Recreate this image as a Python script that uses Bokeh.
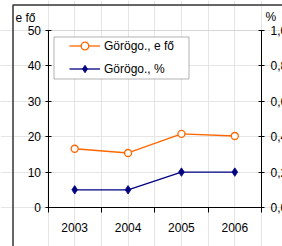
from bokeh.plotting import figure
from bokeh.models import (LinearAxis, Range1d, FixedTicker, Legend, LegendItem, Label,
                          CustomJSTickFormatter, BoxAnnotation, ColumnDataSource)
from bokeh.embed import file_html
from bokeh.resources import INLINE

# ---- data ----
years = ["2003", "2004", "2005", "2006"]
count_e_fo = [16.6, 15.4, 20.8, 20.2]
share_pct = [0.1, 0.1, 0.2, 0.2]
left_ticks = [0, 10, 20, 30, 40, 50]
right_ticks = [0.0, 0.2, 0.4, 0.6, 0.8, 1.0]
series_names = ["Görögo., e fő", "Görögo., %"]
left_unit = "e fő"
right_unit = "%"

# ---- layout (pixels) ----
W, H = 282, 246
AX_L, AX_R, AX_T, AX_B = 47.5, 261.0, 30.0, 207.0   # plot-area edges on the canvas

FONT = "Liberation Sans"
ORANGE = "#FF6600"
NAVY = "#000080"

n_cat = len(years)
x_px = (AX_R - AX_L) / n_cat
y_px = (AX_B - AX_T) / (left_ticks[-1] - left_ticks[0])
x_lo = -AX_L / x_px
x_hi = n_cat + (W - AX_R) / x_px
y_lo = left_ticks[0] - (H - AX_B) / y_px
y_hi = left_ticks[-1] + AX_T / y_px
k = (right_ticks[-1] - right_ticks[0]) / (left_ticks[-1] - left_ticks[0])


def dx(px):  # canvas pixel -> x data
    return x_lo + px / x_px


def dy(py):  # canvas pixel -> y data
    return y_hi - py / y_px


xs = [i + 0.5 for i in range(n_cat)]
src = ColumnDataSource(dict(x=xs, n=count_e_fo, pct=share_pct))

p = figure(width=W, height=H, x_range=Range1d(x_lo, x_hi), y_range=Range1d(y_lo, y_hi),
           output_backend="svg", toolbar_location=None,
           x_axis_location=None, y_axis_location=None, min_border=0,
           min_border_left=0, min_border_right=0, min_border_top=0, min_border_bottom=0)
p.extra_y_ranges = {"pct": Range1d(y_lo * k, y_hi * k)}
p.background_fill_color = "white"
p.border_fill_color = "white"
p.outline_line_color = None

# outer chart frame (only its left and top edges fall inside the picture)
p.line(x=[dx(W + 20), dx(12.5), dx(12.5)], y=[dy(4.5), dy(4.5), dy(H + 20)],
       line_color="#333333", line_width=1.5)
# plot-area border (light grey)
p.add_layout(BoxAnnotation(left=0, right=n_cat, bottom=left_ticks[0], top=left_ticks[-1],
                           fill_alpha=0, line_color="#B4B4B4", line_width=1, level="underlay"))


def style_axis(ax):
    ax.axis_line_color = "black"
    ax.axis_line_width = 1
    ax.major_tick_line_color = "black"
    ax.minor_tick_line_color = "black"
    ax.major_label_text_font = FONT
    ax.major_label_text_font_size = "12px"
    ax.major_label_text_color = "black"


left = LinearAxis(ticker=FixedTicker(ticks=left_ticks), fixed_location=0,
                  bounds=(left_ticks[0], left_ticks[-1]))
style_axis(left)
left.major_tick_in = 3
left.major_tick_out = 3
left.minor_tick_in = 0
left.minor_tick_out = 0
left.major_label_standoff = 4
p.add_layout(left, "left")

right = LinearAxis(y_range_name="pct", ticker=FixedTicker(ticks=right_ticks),
                   fixed_location=n_cat, bounds=(right_ticks[0], right_ticks[-1]),
                   formatter=CustomJSTickFormatter(code="return tick.toFixed(1).replace('.', ',');"))
style_axis(right)
right.major_tick_in = 3
right.major_tick_out = 3
right.minor_tick_in = 0
right.minor_tick_out = 0
right.major_label_standoff = 6
p.add_layout(right, "right")

bottom = LinearAxis(ticker=FixedTicker(ticks=xs, minor_ticks=list(range(n_cat + 1))),
                    fixed_location=left_ticks[0], bounds=(0, n_cat),
                    formatter=CustomJSTickFormatter(args=dict(labels=years),
                                                    code="return labels[Math.floor(tick)];"))
style_axis(bottom)
bottom.major_tick_in = 0
bottom.major_tick_out = 0
bottom.minor_tick_in = 0
bottom.minor_tick_out = 5
bottom.major_label_standoff = 10
p.add_layout(bottom, "below")

# series
l1 = p.line("x", "n", source=src, line_color=ORANGE, line_width=1.3)
m1 = p.scatter("x", "n", source=src, marker="circle", size=7, fill_color="white",
               line_color=ORANGE, line_width=1.3)
l2 = p.line("x", "pct", source=src, y_range_name="pct", line_color=NAVY, line_width=1.3)
m2 = p.scatter("x", "pct", source=src, y_range_name="pct", marker="diamond",
               size=8.5, fill_color=NAVY, line_color=NAVY, line_width=0.8)

# legend box + legend
p.add_layout(BoxAnnotation(left=AX_L + 6, right=AX_L + 141, top=H - (AX_T + 6.5),
                           bottom=H - (AX_T + 48.5),
                           left_units="screen", right_units="screen",
                           top_units="screen", bottom_units="screen",
                           fill_color="white", fill_alpha=1, line_color="black", line_width=1))

legend = Legend(items=[LegendItem(label=series_names[0], renderers=[l1, m1]),
                       LegendItem(label=series_names[1], renderers=[l2, m2])],
                location=(int(AX_L + 22), int(H - (AX_T + 5.5) - 42)), padding=0, spacing=4,
                glyph_width=31, glyph_height=19, label_height=19, label_standoff=4,
                label_text_font=FONT, label_text_font_size="12px", label_text_color="black",
                border_line_alpha=0, background_fill_alpha=0, margin=0)
p.add_layout(legend)

# unit labels
p.add_layout(Label(x=dx(15), y=dy(17), text=left_unit,
                   text_font=FONT, text_font_size="12px", text_color="black",
                   text_baseline="alphabetic", text_align="left"))
p.add_layout(Label(x=dx(265), y=dy(16.5), text=right_unit,
                   text_font=FONT, text_font_size="12px", text_color="black",
                   text_baseline="alphabetic", text_align="left"))

open("out.html", "w").write(file_html(p, INLINE))
